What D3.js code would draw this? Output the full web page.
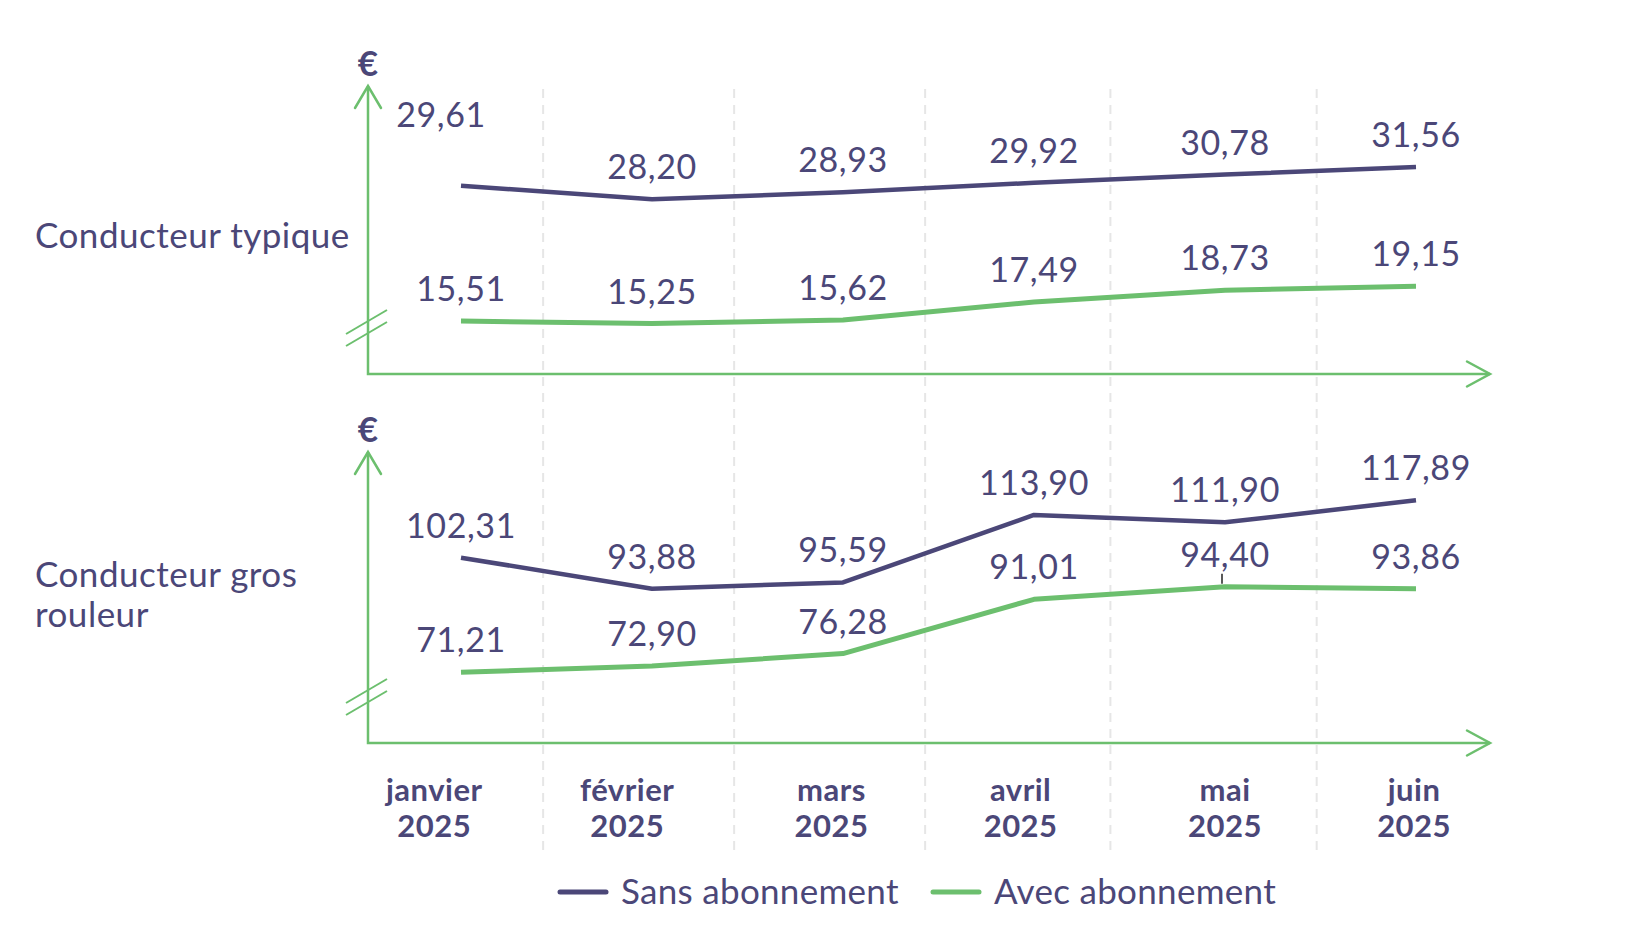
<!DOCTYPE html>
<html>
<head>
<meta charset="utf-8">
<script src="https://cdn.jsdelivr.net/npm/d3@7"></script>
<style>
  body { margin: 0; background: #fff; }
  text { font-family: Lato, "Noto Sans", sans-serif; }
</style>
</head>
<body>
<div id="plot"></div>
<script>
// data
const months = ['janvier', 'février', 'mars', 'avril', 'mai', 'juin'];
const yearLabel = '2025';
const typiqueSans = [29.61, 28.20, 28.93, 29.92, 30.78, 31.56];
const typiqueAvec = [15.51, 15.25, 15.62, 17.49, 18.73, 19.15];
const grosSans = [102.31, 93.88, 95.59, 113.90, 111.90, 117.89];
const grosAvec = [71.21, 72.90, 76.28, 91.01, 94.40, 93.86];
const seriesNames = ['Sans abonnement', 'Avec abonnement'];
const panelNames = [['Conducteur typique'], ['Conducteur gros', 'rouleur']];
const gridAt = [0.43, 1.43, 2.43, 3.40, 4.48]; // dashed separators, in month index units

let width = 1640, height = 939;
const purple = '#4b4778', green = '#6cbf6e';
const colors = [purple, green];

const fr = d3.formatLocale({decimal: ',', thousands: ' ', grouping: [3], currency: ['', ' €']});
const fmt = fr.format('.2f');

let svg = d3.select('#plot')
  .append('svg')
  .attr('width', width)
  .attr('height', height);

let xScale = d3.scaleLinear()
  .domain([0, months.length - 1])
  .range([461, 1416]);

const axisX = 368, axisEnd = 1490;

// panels: y scales (the value axis is cut, hence the break marks)
const panels = [
  { name: panelNames[0], series: [typiqueSans, typiqueAvec],
    y: d3.scaleLinear().domain([10, 40]).range([374, 86]) },
  { name: panelNames[1], series: [grosSans, grosAvec],
    y: d3.scaleLinear().domain([52, 131]).range([743, 452]) }
];

// dashed grid
svg.append('g').selectAll('line')
  .data(gridAt)
  .enter()
  .append('line')
  .attr('x1', d => xScale(d)).attr('x2', d => xScale(d))
  .attr('y1', 89).attr('y2', 851)
  .attr('stroke', '#e6e6e6')
  .attr('stroke-width', 2)
  .attr('stroke-dasharray', '9,7');

const line = d3.line()
  .x((d, i) => xScale(i));

panels.forEach((p, pi) => {
  let g = svg.append('g');
  let y0 = p.y.range()[0], yTop = p.y.range()[1];

  // axes with open arrows
  g.append('path')
    .attr('d', `M${axisX},${yTop} V${y0} H${axisEnd}`)
    .attr('fill', 'none').attr('stroke', green).attr('stroke-width', 2.5);
  g.append('path')
    .attr('d', `M${axisX - 13},${yTop + 22} L${axisX},${yTop} L${axisX + 13},${yTop + 22}`)
    .attr('fill', 'none').attr('stroke', green).attr('stroke-width', 2.5).attr('stroke-linecap', 'round');
  g.append('path')
    .attr('d', `M${axisEnd - 23},${y0 - 12.5} L${axisEnd},${y0} L${axisEnd - 23},${y0 + 12.5}`)
    .attr('fill', 'none').attr('stroke', green).attr('stroke-width', 2.5).attr('stroke-linecap', 'round');

  // break marks
  let by = y0 - 45;
  [-6, 6].forEach(o => {
    g.append('line')
      .attr('x1', axisX - 22).attr('y1', by + o + 11)
      .attr('x2', axisX + 19).attr('y2', by + o - 13)
      .attr('stroke', green).attr('stroke-width', 2);
  });

  // euro sign
  g.append('text')
    .attr('x', axisX).attr('y', yTop - 10)
    .attr('text-anchor', 'middle')
    .attr('font-size', 35).attr('font-weight', 700)
    .attr('fill', purple)
    .text('€');

  // panel label
  let mid = (y0 + yTop) / 2;
  g.append('text')
    .attr('x', 35)
    .attr('y', mid + 18 - (p.name.length - 1) * 29)
    .attr('font-size', 35)
    .attr('letter-spacing', 0.5)
    .attr('fill', purple)
    .selectAll('tspan')
    .data(p.name)
    .enter()
    .append('tspan')
    .attr('x', 35)
    .attr('dy', (d, i) => i === 0 ? 0 : 40)
    .text(d => d);

  // series
  p.series.forEach((vals, si) => {
    g.append('path')
      .datum(vals)
      .attr('d', line.y(d => p.y(d)))
      .attr('fill', 'none')
      .attr('stroke', colors[si])
      .attr('stroke-width', si === 0 ? 4.5 : 5)
      .attr('stroke-linejoin', 'round');

    g.selectAll(null)
      .data(vals)
      .enter()
      .append('text')
      .attr('x', (d, i) => (pi === 0 && si === 0 && i === 0) ? xScale(i) - 20 : xScale(i))
      .attr('y', (d, i) => (pi === 0 && si === 0 && i === 0) ? p.y(d) - 59 : p.y(d) - 20)
      .attr('text-anchor', 'middle')
      .attr('font-size', 34)
      .attr('letter-spacing', 0.6)
      .attr('fill', purple)
      .text(d => fmt(d));
  });

  // little leader tick left under 94,40
  if (pi === 1) {
    g.append('line')
      .attr('x1', xScale(4) - 3).attr('x2', xScale(4) - 3)
      .attr('y1', p.y(grosAvec[4]) - 13).attr('y2', p.y(grosAvec[4]) - 3)
      .attr('stroke', '#222').attr('stroke-width', 1.5);
  }
});

// month labels (slightly left of their points, as in the source layout)
const labelShift = [-0.14, -0.13, -0.06, -0.07, 0, -0.01];
let xl = svg.append('g');
months.forEach((m, i) => {
  let t = xl.append('text')
    .attr('text-anchor', 'middle')
    .attr('font-size', 31)
    .attr('font-weight', 700)
    .attr('letter-spacing', 0.5)
    .attr('fill', purple);
  [m, yearLabel].forEach((s, k) => {
    t.append('tspan')
      .attr('x', xScale(i + labelShift[i]))
      .attr('y', 801 + k * 36)
      .text(s);
  });
});

// legend
let lg = svg.append('g');
const legendX = [560, 933];
seriesNames.forEach((s, i) => {
  lg.append('line')
    .attr('x1', legendX[i]).attr('x2', legendX[i] + 46)
    .attr('y1', 892).attr('y2', 892)
    .attr('stroke', colors[i]).attr('stroke-width', 5).attr('stroke-linecap', 'round');
  lg.append('text')
    .attr('x', legendX[i] + 61).attr('y', 904)
    .attr('font-size', 35)
    .attr('letter-spacing', 0.3)
    .attr('fill', purple)
    .text(s);
});
</script>
</body>
</html>
